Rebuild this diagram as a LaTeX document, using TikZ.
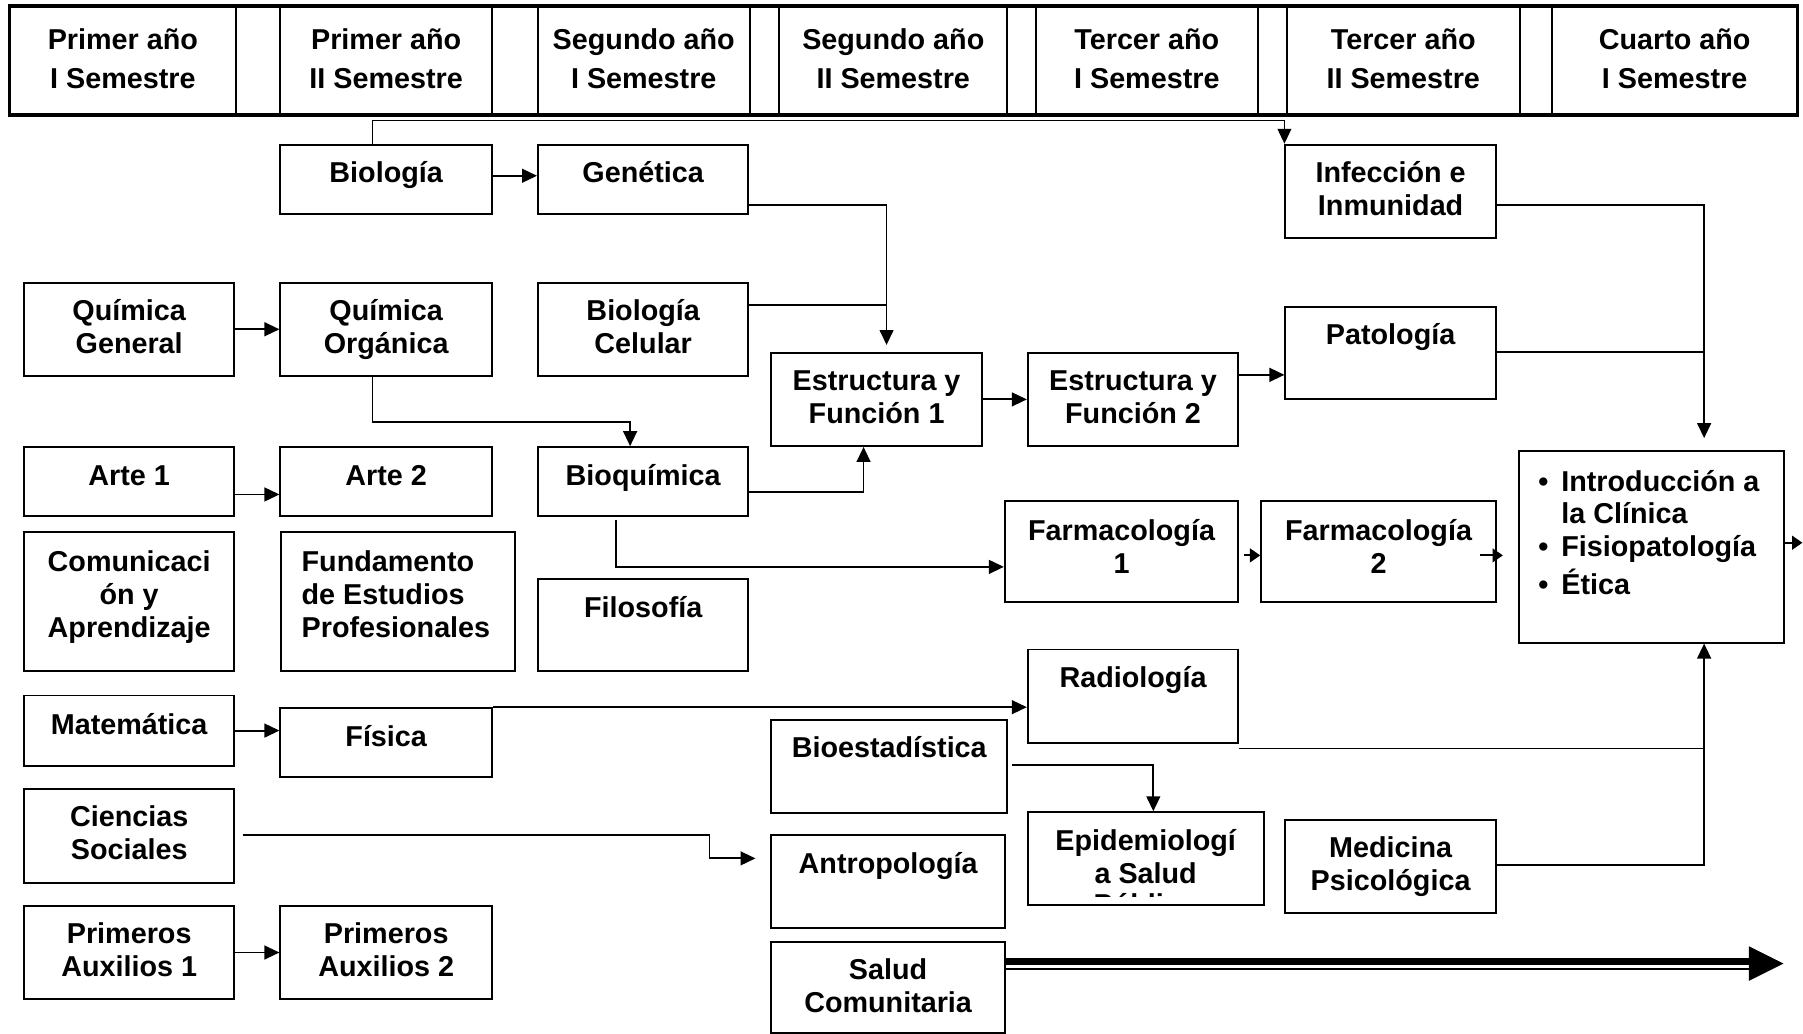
\documentclass[tikz,border=0pt]{standalone}
\usepackage{fontspec}
\setmainfont{Liberation Sans}
\usetikzlibrary{arrows.meta}
% #1 alignment, #2 name, #3 x1, #4 y1, #5 x2, #6 y2, #7 first baseline offset, #8 text
\newcommand\subj[8][\centering]{%
  \node[box, anchor=north west] (#2) at (#3,#4) {\begin{minipage}[t][\dimexpr #6pt-#4pt\relax][t]{\dimexpr #5pt-#3pt\relax}\lineskiplimit=-100pt\vspace*{\dimexpr #7pt-\ht\strutbox\relax}#1\strut #8\par\end{minipage}};}
\newcommand\bul{\makebox[37pt][l]{\hspace{17pt}\textbullet}}
\begin{document}
\begin{tikzpicture}[x=1pt,y=-1pt,
  txt/.style={font=\bfseries\fontsize{25}{28.75}\selectfont},
  box/.style={txt, draw, line width=1.7pt, inner sep=0pt},
  conn/.style={line width=1.6pt},
  arr/.style={conn, -{Triangle[length=13pt,width=12pt]}},
  arrs/.style={conn, -{Triangle[length=9pt,width=12pt]}}]
\useasboundingbox (0,0) rectangle (1568,899);
% header
\subj{h1}{8}{5}{204}{98.5}{37}{Primer año\\[5.25pt]I Semestre}
\subj{hg1}{204}{5}{243}{98.5}{37}{}
\subj{h2}{243}{5}{427}{98.5}{37}{Primer año\\[5.25pt]II Semestre}
\subj{hg2}{427}{5}{467}{98.5}{37}{}
\subj{h3}{467}{5}{651}{98.5}{37}{Segundo año\\[5.25pt]I Semestre}
\subj{hg3}{651}{5}{677}{98.5}{37}{}
\subj{h4}{677}{5}{875}{98.5}{37}{Segundo año\\[5.25pt]II Semestre}
\subj{hg4}{875}{5}{900}{98.5}{37}{}
\subj{h5}{900}{5}{1093}{98.5}{37}{Tercer año\\[5.25pt]I Semestre}
\subj{hg5}{1093}{5}{1118}{98.5}{37}{}
\subj{h6}{1118}{5}{1321}{98.5}{37}{Tercer año\\[5.25pt]II Semestre}
\subj{hg6}{1321}{5}{1349}{98.5}{37}{}
\subj{h7}{1349}{5}{1562}{98.5}{37}{Cuarto año\\[5.25pt]I Semestre}
\draw[line width=2.4pt] (h1.north west) rectangle (h7.south east);
% courses
\subj{bio}{243}{125}{427}{185}{33}{Biología}
\subj{gen}{467}{125}{650}{185}{33}{Genética}
\subj{inf}{1117}{125}{1300}{206}{33}{Infección e\\Inmunidad}
\subj{qg}{20}{245}{203}{326}{33}{Química\\General}
\subj{qo}{243}{245}{427}{326}{33}{Química\\Orgánica}
\subj{bcel}{467}{245}{650}{326}{33}{Biología\\Celular}
\subj{pat}{1117}{266}{1300}{346}{33}{Patología}
\subj{ef1}{670}{306}{853}{387}{33}{Estructura y\\Función 1}
\subj{ef2}{893}{306}{1076}{387}{33}{Estructura y\\Función 2}
\subj{art1}{20}{388}{203}{448}{33}{Arte 1}
\subj{art2}{243}{388}{427}{448}{33}{Arte 2}
\subj{bioq}{467}{388}{650}{448}{33}{Bioquímica}
\subj[\raggedright]{intro}{1320}{391.5}{1551}{558}{35}{\bul Introducción a\\[-0.75pt]\hspace*{37pt}la Clínica\\[0.25pt]\bul Fisiopatología\\[4.25pt]\bul Ética}
\subj{f1}{873}{435}{1076}{523}{34}{Farmacología\\1}
\subj{f2}{1096}{435}{1300}{523}{34}{Farmacología\\2}
\subj{com}{20}{462}{203}{583}{34}{Comunicaci\\ón y\\Aprendizaje}
\subj[\raggedright\leftskip=18pt]{fun}{243.5}{462}{447}{583}{34}{Fundamento\\de Estudios\\Profesionales}
\subj{fil}{467}{503}{650}{583}{33}{Filosofía}
\subj{rad}{893}{564}{1076}{645}{33}{Radiología}
\subj{mat}{20}{604}{203}{665}{34}{Matemática}
\subj{fis}{243}{615}{427}{675}{33}{Física}
\subj{best}{670}{625}{875}{706}{33}{Bioestadística}
\subj{epi}{893}{705.5}{1098}{786}{33}{Epidemiologí\\a Salud}
\begin{scope}
\clip (893,705.5) rectangle (1098,779.5);
\node[txt, anchor=base, inner sep=0pt] (epi3) at (995.5,795) {Pública};
\end{scope}
\subj{med}{1117}{712}{1300}{793.5}{33}{Medicina\\Psicológica}
\subj{cs}{20}{685}{203}{767}{33}{Ciencias\\Sociales}
\subj{ant}{670}{725.5}{873}{806}{33}{Antropología}
\subj{pa1}{20}{787}{203}{868}{33}{Primeros\\Auxilios 1}
\subj{pa2}{243}{787}{427}{868}{33}{Primeros\\Auxilios 2}
\subj{sc}{670}{818}{873}{897.5}{33}{Salud\\Comunitaria}
% connectors
\coordinate (bi1) at (324,105);
\coordinate (bi2) at (1117,105);
\draw[arr, line width=1.2pt] (bio.north -| bi1) -- (bi1) -- (bi2) -- (bi2 |- inf.north);
\draw[arr] ([yshift=3pt]bio.east) -- ([yshift=3pt]gen.west);
\coordinate (g1) at (771,178);
\coordinate (g2) at (771,265);
\coordinate (g3) at (771,300);
\draw[arr] (gen.east |- g1) -- (g1) -- (g3);
\draw[conn] (bcel.east |- g2) -- (g2);
\draw[arr] (qg.east) -- (qo.west);
\coordinate (q1) at (324,367);
\coordinate (q2) at (548,367);
\draw[arr] (qo.south -| q1) -- (q1) -- (q2) -- (q2 |- bioq.north);
\coordinate (bq1) at (751,428);
\draw[arr] (bioq.east |- bq1) -- (bq1) -- (bq1 |- ef1.south);
\draw[arr] (ef1.east) -- (ef2.west);
\coordinate (ep) at (0,326);
\draw[arr] (ef2.east |- ep) -- (pat.west |- ep);
\draw[arr] (art1.east |- 0,430) -- (art2.west |- 0,430);
\coordinate (bf1) at (536,452);
\coordinate (bf2) at (536,493);
\draw[arr] (bf1) -- (bf2) -- (bf2 -| f1.west);
\coordinate (ff1) at (1082,483);
\draw[arrs] (ff1) -- (ff1 -| f2.west);
\coordinate (ff2) at (1287,483);
\coordinate (ff3) at (1307,483);
\draw[arrs] (ff2) -- (ff3);
\coordinate (ii) at (1482,178);
\coordinate (iitip) at (1482,381);
\draw[arr] (inf.east |- ii) -- (ii) -- (iitip);
\draw[conn] (pat.east |- 0,306) -- (1482,306);
\coordinate (iout) at (1567.5,472);
\draw[arrs] (intro.east |- iout) -- (iout);
\draw[arr] (mat.east) -- (mat.east -| fis.west);
\draw[arr] (fis.north east) -- (fis.north east -| rad.west);
\coordinate (ri) at (1482,651);
\draw[conn] (rad.east |- ri) -- (ri);
\draw[arr] (med.east |- 0,752) -| (ri |- intro.south);
\coordinate (be1) at (880,665);
\coordinate (be2) at (1003,665);
\draw[arr] (be1) -- (be2) -- (be2 |- epi.north);
\coordinate (cs1) at (211,726);
\coordinate (cs2) at (617,726);
\coordinate (cs3) at (617,746.5);
\coordinate (cs4) at (657,746.5);
\draw[arr] (cs1) -- (cs2) -- (cs3) -- (cs4);
\draw[arr] (pa1.east) -- (pa2.west);
% big arrow
\coordinate (bigtip) at (1551,838);
\draw[line width=5.8pt] (sc.east |- 0,836.2) -- (1524,836.2);
\draw[line width=1.8pt] (sc.east |- 0,842.5) -- (1524,842.5);
\fill (1521,823) -- (bigtip) -- (1521,853) -- cycle;
\end{tikzpicture}
\end{document}
